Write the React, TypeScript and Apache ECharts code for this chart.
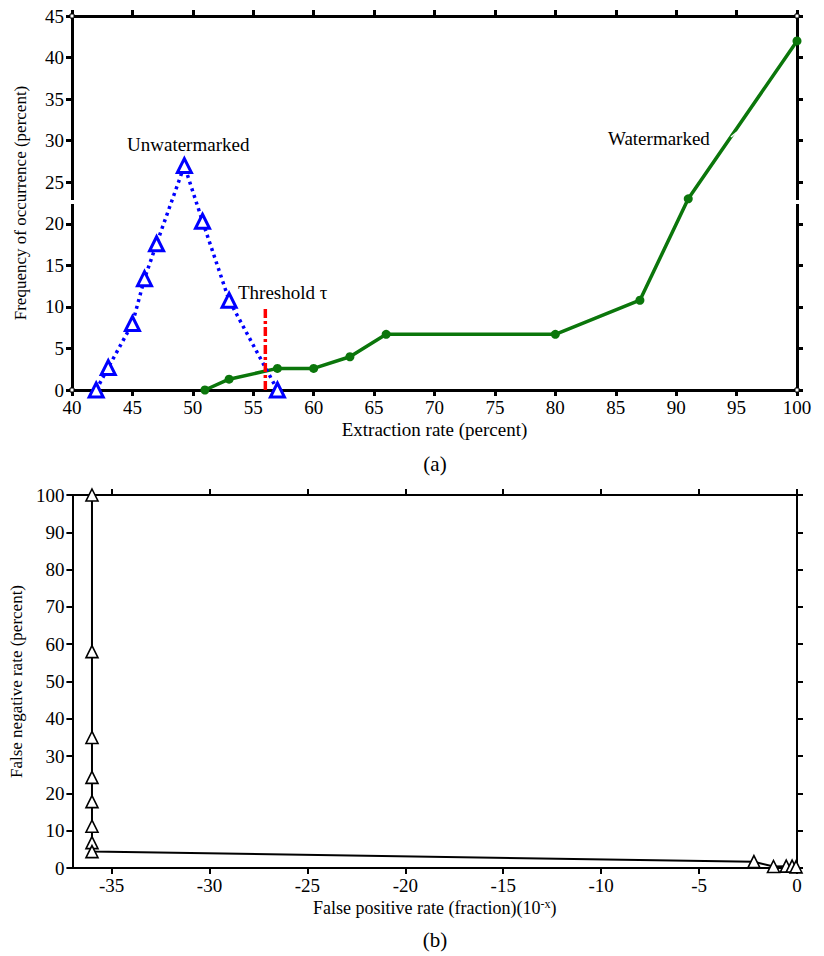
import React, { useEffect, useRef } from "react";
import * as echarts from "echarts";

// (a) Frequency of occurrence vs extraction rate
const unwmX = [42, 43, 45, 46, 47, 49.3, 50.8, 53, 57];
const unwmY = [0, 2.7, 8, 13.4, 17.6, 27, 20.3, 10.8, 0];
const wmX = [51, 53, 57, 60, 63, 66, 80, 87, 91, 100];
const wmY = [0, 1.3, 2.6, 2.6, 4, 6.7, 6.7, 10.8, 23, 42];
const thresholdX = [56, 56];
const thresholdY = [0, 10];

// (b) False negative rate vs false positive rate exponent
const fpX = [-36, -36, -36, -36, -36, -36, -36, -36, -2.2, -1.2, -0.55, -0.25, -0.05];
const fnY = [100, 58, 35, 24.3, 17.8, 11.2, 6.8, 4.4, 1.7, 0.4, 0.5, 0.5, 0.3];
const bTicks = [-35, -30, -25, -20, -15, -10, -5, 0];

const zip = (xs: number[], ys: number[]) => xs.map((x, i) => [x, ys[i]]);

const FONT = "Liberation Serif";

export default function App() {
  const ref = useRef<HTMLDivElement>(null);
  useEffect(() => {
    document.body.style.margin = "0";
    const chart = echarts.init(ref.current!, null, { renderer: "svg" });
    const axisLineA = { show: true, onZero: false, lineStyle: { color: "#000", width: 3 } };
    const axisLineB = { show: true, onZero: false, lineStyle: { color: "#000", width: 2 } };
    const tickA = { show: true, inside: false, length: 6, lineStyle: { color: "#000", width: 3 } };
    const tickB = { show: true, inside: false, length: 6, lineStyle: { color: "#000", width: 2 } };
    const label = { color: "#000", fontSize: 19, fontFamily: FONT, margin: 8 };
    const nameStyle = { color: "#000", fontSize: 17, fontFamily: FONT };
    const hNameStyle = { color: "#000", fontSize: 19, fontFamily: FONT };
    const option: any = {
      animation: false,
      backgroundColor: "#fff",
      textStyle: { fontFamily: FONT },
      grid: [
        { left: 72, width: 725, top: 16, height: 374 },
        { left: 72, width: 725, top: 495, height: 373 },
      ],
      xAxis: [
        {
          gridIndex: 0, type: "value", position: "bottom", min: 40, max: 100, interval: 5,
          axisLine: axisLineA, axisTick: tickA, axisLabel: label, splitLine: { show: false },
          name: "Extraction rate (percent)", nameLocation: "middle", nameGap: 30, nameTextStyle: hNameStyle,
        },
        {
          gridIndex: 0, type: "value", position: "top", min: 40, max: 100, interval: 5,
          axisLine: axisLineA, axisTick: tickA, axisLabel: { show: false }, splitLine: { show: false },
        },
        {
          gridIndex: 1, type: "value", position: "bottom", min: -37, max: 0,
          axisLine: axisLineB, axisTick: { ...tickB, customValues: bTicks },
          axisLabel: { ...label, customValues: bTicks }, splitLine: { show: false },
          name: "False positive rate (fraction)(10{sup|-x})", nameLocation: "middle", nameGap: 30,
          nameTextStyle: { ...hNameStyle, fontSize: 18, rich: { sup: { fontSize: 12, fontFamily: FONT, color: "#000", verticalAlign: "top", padding: [0, 0, 8, 0] } } },
        },
        {
          gridIndex: 1, type: "value", position: "top", min: -37, max: 0,
          axisLine: axisLineB, axisTick: { ...tickB, customValues: bTicks },
          axisLabel: { show: false, customValues: bTicks }, splitLine: { show: false },
        },
      ],
      yAxis: [
        {
          gridIndex: 0, type: "value", position: "left", min: 0, max: 45, interval: 5,
          axisLine: axisLineA, axisTick: tickA, axisLabel: label, splitLine: { show: false },
          name: "Frequency of occurrence (percent)", nameLocation: "middle", nameGap: 43, nameTextStyle: nameStyle,
        },
        {
          gridIndex: 0, type: "value", position: "right", min: 0, max: 45, interval: 5,
          axisLine: axisLineA, axisTick: tickA, axisLabel: { show: false }, splitLine: { show: false },
        },
        {
          gridIndex: 1, type: "value", position: "left", min: 0, max: 100, interval: 10,
          axisLine: axisLineB, axisTick: tickB, axisLabel: label, splitLine: { show: false },
          name: "False negative rate (percent)", nameLocation: "middle", nameGap: 43, nameTextStyle: nameStyle,
        },
        {
          gridIndex: 1, type: "value", position: "right", min: 0, max: 100, interval: 10,
          axisLine: axisLineB, axisTick: tickB, axisLabel: { show: false }, splitLine: { show: false },
        },
      ],
      series: [
        {
          type: "line", xAxisIndex: 0, yAxisIndex: 0, data: zip(unwmX, unwmY),
          lineStyle: { color: "#0000ff", width: 3.5, type: [3, 4] },
          symbol: "triangle", symbolSize: 14,
          itemStyle: { color: "#ffffff", borderColor: "#0000ff", borderWidth: 3 },
          z: 3,
        },
        {
          type: "line", xAxisIndex: 0, yAxisIndex: 0, data: zip(wmX, wmY),
          lineStyle: { color: "#0b760b", width: 3.5 },
          symbol: "circle", symbolSize: 9,
          itemStyle: { color: "#0b760b" },
          z: 2,
        },
        {
          type: "line", xAxisIndex: 0, yAxisIndex: 0, data: zip(thresholdX, thresholdY),
          lineStyle: { color: "#ff0000", width: 3.5, type: [9, 3, 3, 3] },
          symbol: "none", z: 4,
        },
        {
          type: "line", xAxisIndex: 2, yAxisIndex: 2, data: zip(fpX, fnY),
          lineStyle: { color: "#000", width: 2 },
          symbol: "triangle", symbolSize: 12,
          itemStyle: { color: "#ffffff", borderColor: "#000", borderWidth: 1.6 },
        },
      ],
      graphic: [
        { type: "text", left: 127, top: 135, style: { text: "Unwatermarked", fill: "#000", fontSize: 19, fontFamily: FONT } },
        { type: "text", left: 608, top: 129, style: { text: "Watermarked", fill: "#000", fontSize: 19, fontFamily: FONT } },
        { type: "text", left: 238, top: 283, style: { text: "Threshold τ", fill: "#000", fontSize: 19, fontFamily: FONT } },
        { type: "text", x: 435, y: 464, style: { text: "(a)", fill: "#000", fontSize: 21, fontFamily: FONT, align: "center", verticalAlign: "middle" } },
        { type: "text", x: 435, y: 940, style: { text: "(b)", fill: "#000", fontSize: 21, fontFamily: FONT, align: "center", verticalAlign: "middle" } },
        { type: "rect", shape: { x: 66, y: 200, width: 12, height: 4 }, style: { fill: "#fff" }, z: 100 },
        { type: "rect", shape: { x: 791, y: 200, width: 12, height: 4 }, style: { fill: "#fff" }, z: 100 },
        { type: "line", shape: { x1: 731, y1: 137, x2: 737, y2: 132 }, style: { stroke: "#fff", lineWidth: 1.5 }, z: 100 },
        { type: "rect", shape: { x: 70, y: 14, width: 4, height: 4 }, style: { fill: "#fff", stroke: "#000", lineWidth: 1 }, z: 100 },
        { type: "rect", shape: { x: 70, y: 388, width: 4, height: 4 }, style: { fill: "#fff", stroke: "#000", lineWidth: 1 }, z: 100 },
        { type: "rect", shape: { x: 795, y: 14, width: 4, height: 4 }, style: { fill: "#fff", stroke: "#000", lineWidth: 1 }, z: 100 },
        { type: "rect", shape: { x: 795, y: 388, width: 4, height: 4 }, style: { fill: "#fff", stroke: "#000", lineWidth: 1 }, z: 100 },
      ],
    };
    chart.setOption(option);
    return () => chart.dispose();
  }, []);
  return <div ref={ref} style={{ width: 824, height: 956 }} />;
}
